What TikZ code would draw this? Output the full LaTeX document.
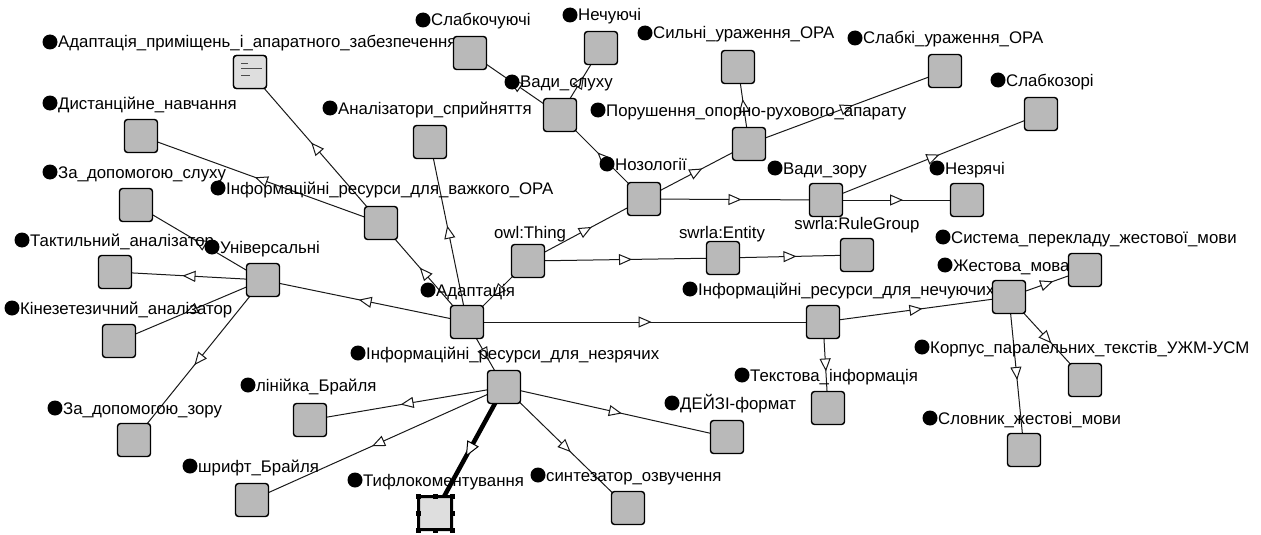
\documentclass[tikz,border=0pt]{standalone}
\usepackage{fontspec}
\newfontfamily\labfont{Liberation Sans}
\usetikzlibrary{arrows.meta,decorations.markings,backgrounds}
\definecolor{boxgray}{RGB}{185,185,185}
\definecolor{lightbox}{RGB}{222,222,222}
\newcommand\mkcls[6]{%
  \node[clsbox] (#1) at (#2,#3) {};
  \node[dotmark] (#1-dot) at (#4,#5) {};
  \node[lab] (#1-lab) at ([xshift=8pt,yshift=-6pt]#1-dot.center) {#6};
}
\begin{document}
\begin{tikzpicture}[x=1pt,y=-1pt,
  clsbox/.style={draw=black, line width=1.4pt, fill=boxgray, rounded corners=3pt, minimum size=33pt, inner sep=0pt},
  dotmark/.style={circle, fill=black, minimum size=15pt, inner sep=0pt},
  lab/.style={font=\labfont\fontsize{16.8}{19}\selectfont, anchor=base west, inner sep=0pt},
  rel/.style={draw=black!90, line width=1pt, postaction={decorate},
    decoration={markings, mark=at position 0.5 with {\arrow[xshift=6.5pt]{Triangle[length=13pt,width=11pt,fill=white,line width=1pt]}}}},
  thickrel/.style={draw=black, line width=4.5pt, postaction={decorate},
    decoration={markings, mark=at position 0.5 with {\arrow[xshift=7.5pt]{Triangle[length=15pt,width=13pt,fill=white,line width=1pt]}}}}
]
\useasboundingbox (0,0) rectangle (1261,535);

% classes
\mkcls{aprim}{250}{72}{50}{42}{Адаптація\_приміщень\_і\_апаратного\_забезпечення}
\mkcls{dist}{141}{136}{50}{103}{Дистанційне\_навчання}
\mkcls{zslukh}{136}{205}{50}{172}{За\_допомогою\_слуху}
\mkcls{takt}{115}{272}{22}{240}{Тактильний\_аналізатор}
\mkcls{univ}{263}{280}{212}{247}{Універсальні}
\mkcls{kin}{119}{341}{12}{308}{Кінезетезичний\_аналізатор}
\mkcls{zzoru}{134}{440}{55}{408}{За\_допомогою\_зору}
\mkcls{ora}{381}{223}{218}{188}{Інформаційні\_ресурси\_для\_важкого\_ОРА}
\mkcls{anal}{430}{142}{330}{108}{Аналізатори\_сприйняття}
\mkcls{slabkoch}{470}{53}{423}{20}{Слабкочуючі}
\mkcls{nechuy}{601}{48}{570}{15}{Нечуючі}
\mkcls{vslukh}{560}{115}{512}{82}{Вади\_слуху}
\mkcls{sylni}{738}{67}{645}{33}{Сильні\_ураження\_ОРА}
\mkcls{slabki}{945}{71}{855}{38}{Слабкі\_ураження\_ОРА}
\mkcls{porush}{749}{144}{598}{110}{Порушення\_опорно-рухового\_апарату}
\mkcls{slabkoz}{1041}{114}{998}{80}{Слабкозорі}
\mkcls{nozol}{644}{199}{607}{164}{Нозології}
\mkcls{vzoru}{826}{200}{775}{168}{Вади\_зору}
\mkcls{nezr}{967}{200}{937}{168}{Незрячі}
\node[clsbox] (thing) at (528,261) {};
\node[lab, anchor=base] (thing-lab) at (530,238) {owl:Thing};
\node[clsbox] (entity) at (723,258) {};
\node[lab, anchor=base] (entity-lab) at (722,238) {swrla:Entity};
\node[clsbox] (rulegroup) at (857,255) {};
\node[lab, anchor=base] (rulegroup-lab) at (857,229) {swrla:RuleGroup};
\mkcls{adapt}{467}{322}{428}{290}{Адаптація}
\mkcls{nechres}{823}{322}{690}{289}{Інформаційні\_ресурси\_для\_нечуючих}
\mkcls{zhest}{1009}{297}{945}{265}{Жестова\_мова}
\mkcls{syst}{1085}{270}{943}{237}{Система\_перекладу\_жестової\_мови}
\mkcls{korpus}{1085}{380}{922}{347}{Корпус\_паралельних\_текстів\_УЖМ-УСМ}
\mkcls{slovnyk}{1024}{450}{930}{418}{Словник\_жестові\_мови}
\mkcls{tekst}{828}{408}{742}{375}{Текстова\_інформація}
\mkcls{nezrres}{504}{387}{358}{353}{Інформаційні\_ресурси\_для\_незрячих}
\mkcls{liniyka}{310}{420}{248}{385}{лінійка\_Брайля}
\mkcls{deizi}{727}{437}{672}{403}{ДЕЙЗІ-формат}
\mkcls{shryft}{252}{500}{190}{466}{шрифт\_Брайля}
\mkcls{tyflo}{435}{513}{355}{480}{Тифлокоментування}
\mkcls{syntez}{628}{508}{538}{475}{синтезатор\_озвучення}

% special looks
\node[clsbox, fill=lightbox] at (aprim) {};
\draw[black!70, line width=0.8pt] (241,63) -- (248,63) (241,68) -- (262,68) (241,75) -- (250,75);
\node[clsbox, fill=lightbox, line width=3pt, rounded corners=1pt] at (tyflo) {};
\foreach \dx in {-17,0,17} \foreach \dy in {-17,0,17} {
  \fill[black] ([xshift=\dx pt, yshift=\dy pt]tyflo.center) +(-2.5pt,-2.5pt) rectangle +(2.5pt,2.5pt);
}
\node[clsbox, fill=lightbox, draw=none, minimum size=28pt] at (tyflo) {};

% relations
\begin{pgfonlayer}{background}
\fill[white] (0,0) rectangle (1261,535);
\draw[rel] (thing.center) -- (nozol.center);
\draw[rel] (thing.center) -- (entity.center);
\draw[rel] (thing.center) -- (adapt.center);
\draw[rel] (entity.center) -- (rulegroup.center);
\draw[rel] (nozol.center) -- (vslukh.center);
\draw[rel] (nozol.center) -- (porush.center);
\draw[rel] (nozol.center) -- (vzoru.center);
\draw[rel] (vslukh.center) -- (slabkoch.center);
\draw[rel] (vslukh.center) -- (nechuy.center);
\draw[rel] (porush.center) -- (sylni.center);
\draw[rel] (porush.center) -- (slabki.center);
\draw[rel] (vzoru.center) -- (slabkoz.center);
\draw[rel] (vzoru.center) -- (nezr.center);
\draw[rel] (adapt.center) -- (univ.center);
\draw[rel] (adapt.center) -- (ora.center);
\draw[rel] (adapt.center) -- (anal.center);
\draw[rel] (adapt.center) -- (nechres.center);
\draw[rel] (adapt.center) -- (nezrres.center);
\draw[rel] (ora.center) -- (aprim.center);
\draw[rel] (ora.center) -- (dist.center);
\draw[rel] (univ.center) -- (zslukh.center);
\draw[rel] (univ.center) -- (takt.center);
\draw[rel] (univ.center) -- (kin.center);
\draw[rel] (univ.center) -- (zzoru.center);
\draw[rel] (nechres.center) -- (zhest.center);
\draw[rel] (nechres.center) -- (tekst.center);
\draw[rel] (zhest.center) -- (syst.center);
\draw[rel] (zhest.center) -- (korpus.center);
\draw[rel] (zhest.center) -- (slovnyk.center);
\draw[rel] (nezrres.center) -- (liniyka.center);
\draw[rel] (nezrres.center) -- (shryft.center);
\draw[thickrel] (nezrres.center) -- (tyflo.center);
\draw[rel] (nezrres.center) -- (syntez.center);
\draw[rel] (nezrres.center) -- (deizi.center);
\end{pgfonlayer}
\end{tikzpicture}
\end{document}
